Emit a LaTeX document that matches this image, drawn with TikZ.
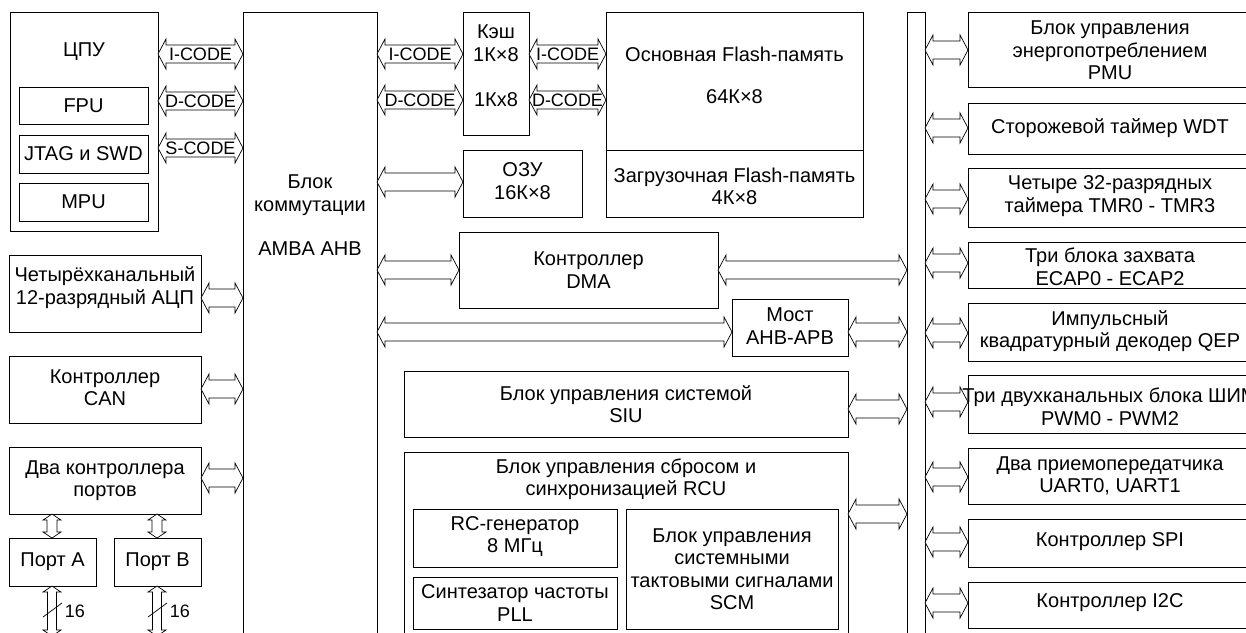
\documentclass[tikz,border=0pt]{standalone}
\usepackage{fontspec}
\setmainfont{Liberation Sans}
\usetikzlibrary{calc}
\newcommand\fs{\fontsize{20}{22.5}\selectfont}
\newcommand\fl{\fontsize{18}{20}\selectfont}
\tikzset{
  box/.style={draw, line width=0.9pt, inner sep=0pt, outer sep=0pt},
  txt/.style={align=center, font=\fs, inner sep=0pt},
  bus/.style={draw, line width=0.7pt, fill=white},
  lbl/.style={font=\fl, inner sep=0pt},
}
% \blk[dy]{name}{x1}{y1}{x2}{y2}{text}
\newcommand\blk[7][0]{%
  \node[box, anchor=north west, minimum width={#5-#3}, minimum height={#6-#4}] (#2) at (#3,#4) {};
  \node[txt] (#2t) at ([yshift=-#1pt]#2.center) {#7};}
% horizontal hollow double arrow: \hbus[label]{left node}{right node}{y}
\newcommand\hbus[4][]{%
  \draw[bus] let \p1=(#2.east |- 0,#4), \p2=(#3.west |- 0,#4) in
   (\p1) -- ({\x1+8pt},{\y1+15pt}) -- ({\x1+8pt},{\y1+9pt}) -- ({\x2-8pt},{\y1+9pt})
   -- ({\x2-8pt},{\y1+15pt}) -- (\p2) -- ({\x2-8pt},{\y1-15pt}) -- ({\x2-8pt},{\y1-9pt})
   -- ({\x1+8pt},{\y1-9pt}) -- ({\x1+8pt},{\y1-15pt}) -- cycle
   ({(\x1+\x2)/2},\y1) node[lbl] {#1};}
% vertical hollow double arrow: \vbus{top}{bottom}{x}{half shaft}{half head}
\newcommand\vbus[5]{%
  \draw[bus] let \p1=(#1 -| #3,0), \p2=(#2 -| #3,0) in
   (\p1) -- ({\x1+#5pt},{\y1-6pt}) -- ({\x1+#4pt},{\y1-6pt}) -- ({\x1+#4pt},{\y2+6pt})
   -- ({\x1+#5pt},{\y2+6pt}) -- (\p2) -- ({\x1-#5pt},{\y2+6pt}) -- ({\x1-#4pt},{\y2+6pt})
   -- ({\x1-#4pt},{\y1-6pt}) -- ({\x1-#5pt},{\y1-6pt}) -- cycle;}
\begin{document}
\begin{tikzpicture}[x=1pt,y=-1pt]
\useasboundingbox (0,0) rectangle (1246,632);
% left column
\blk[-69.5]{cpu}{10}{12}{158}{231}{ЦПУ}
\blk{fpu}{19}{87}{148}{124}{FPU}
\blk{jtag}{19}{135}{148}{173}{JTAG и SWD}
\blk{mpu}{19}{183}{148}{221}{MPU}
\blk[-6]{adc}{9}{255}{201}{332}{Четырёхканальный\\12-разрядный АЦП}
\blk[-2]{can}{9}{356}{201}{423}{Контроллер\\CAN}
\blk{ports}{9}{447}{201}{514}{Два контроллера\\портов}
\blk{porta}{9}{538}{96}{586}{Порт A}
\blk{portb}{114}{538}{201}{586}{Порт B}
% AHB matrix
\blk[-113]{ahb}{243}{12}{377}{645}{Блок\\коммутации\\[22pt]AMBA AHB}
% memories
\blk[-7.5]{cache}{463}{12}{529}{135}{Кэш\\1К×8\\[23pt]1Кх8}
\blk[-5.5]{flash}{606}{12}{863}{150}{Основная Flash-память\\[20pt]64К×8}
\blk[3]{boot}{606}{150}{863}{217}{Загрузочная Flash-память\\4К×8}
\blk[-2.5]{ram}{463}{150}{582}{217}{ОЗУ\\16К×8}
\blk{dma}{459}{232}{718}{308}{Контроллер\\DMA}
\blk[-1.5]{bridge}{732}{299}{848}{356}{Мост\\AHB-APB}
\blk{siu}{404}{371}{848}{437}{Блок управления системой\\SIU}
\blk[-69.5]{rcu}{404}{452}{848}{645}{Блок управления сбросом и\\синхронизацией RCU}
\blk[-1.5]{rc}{413}{509}{617}{567}{RC-генератор\\8 МГц}
\blk{pll}{413}{577}{617}{629}{Синтезатор частоты\\PLL}
\blk{scm}{626}{509}{838}{629}{Блок управления\\системными\\тактовыми сигналами\\SCM}
% APB bus
\blk{apb}{907}{12}{925}{645}{}
% peripherals
\blk[1]{pmu}{968}{12}{1252}{87}{Блок управления\\энергопотреблением\\PMU}
\blk{wdt}{968}{103}{1252}{154}{Сторожевой таймер WDT}
\blk[-1.5]{tmr}{968}{168}{1252}{227}{Четыре 32-разрядных\\таймера TMR0 - TMR3}
\blk[2]{ecap}{968}{242}{1252}{288}{Три блока захвата\\ECAP0 - ECAP2}
\blk[-1]{qep}{968}{303}{1252}{361}{Импульсный\\квадратурный декодер QEP}
\blk[3]{pwm}{968}{375}{1252}{433}{Три двухканальных блока ШИМ\\PWM0 - PWM2}
\blk{uart}{968}{448}{1252}{504}{Два приемопередатчика\\UART0, UART1}
\blk[-1]{spi}{968}{519}{1252}{567}{Контроллер SPI}
\blk[-2]{i2c}{968}{582}{1252}{628}{Контроллер I2C}
% buses left
\hbus[I-CODE]{cpu}{ahb}{54}
\hbus[D-CODE]{cpu}{ahb}{101}
\hbus[S-CODE]{cpu}{ahb}{148}
\hbus{adc}{ahb}{298}
\hbus{can}{ahb}{389}
\hbus{ports}{ahb}{478}
% buses middle
\hbus[I-CODE]{ahb}{cache}{54}
\hbus[D-CODE]{ahb}{cache}{100}
\hbus[I-CODE]{cache}{flash}{54}
\hbus[D-CODE]{cache}{flash}{100}
\hbus{ahb}{ram}{182}
\hbus{ahb}{dma}{270}
\hbus{dma}{apb}{270}
\hbus{ahb}{bridge}{332}
\hbus{bridge}{apb}{332}
\hbus{siu}{apb}{409}
\hbus{rcu}{apb}{514}
% buses right
\hbus{apb}{pmu}{50}
\hbus{apb}{wdt}{128}
\hbus{apb}{tmr}{199}
\hbus{apb}{ecap}{263}
\hbus{apb}{qep}{333}
\hbus{apb}{pwm}{402}
\hbus{apb}{uart}{477}
\hbus{apb}{spi}{542}
\hbus{apb}{i2c}{603}
% ports
\vbus{ports.south}{porta.north}{52}{5}{9}
\vbus{ports.south}{portb.north}{157}{5}{9}
\coordinate (pae) at (52,636);
\coordinate (pbe) at (157,636);
\vbus{porta.south}{pae}{52}{4.5}{9}
\vbus{portb.south}{pbe}{157}{4.5}{9}
\draw[line width=0.7pt] (43,617) -- (62,603);
\draw[line width=0.7pt] (148,617) -- (167,603);
\node[lbl] (n16a) at (75,611) {16};
\node[lbl] (n16b) at (180,611) {16};
\end{tikzpicture}
\end{document}
